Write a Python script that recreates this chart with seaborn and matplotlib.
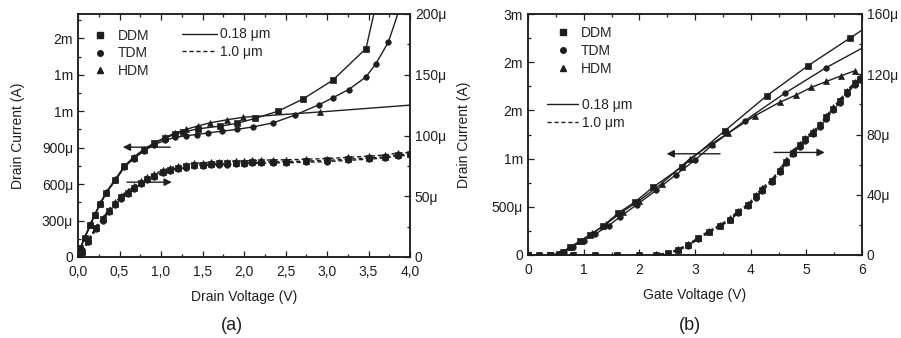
import matplotlib
matplotlib.use("Agg")
import matplotlib.pyplot as plt
import seaborn as sns
from matplotlib.lines import Line2D

# ---------------- data: panel (a)  Drain current vs drain voltage ----------------
# 0.18 um devices, left axis (uA)
va_ddm = [0, 0.03, 0.08, 0.15, 0.2, 0.27, 0.34, 0.45, 0.56, 0.67, 0.8, 0.92, 1.05, 1.17, 1.27,
          1.45, 1.71, 1.91, 2.13, 2.41, 2.71, 3.07, 3.47, 3.68]
ia_ddm = [0, 72, 160, 265, 345, 440, 530, 635, 745, 815, 880, 935, 980, 1010, 1030,
          1055, 1077, 1099, 1140, 1200, 1300, 1455, 1716, 2350]
va_tdm = [0, 0.03, 0.08, 0.15, 0.2, 0.27, 0.34, 0.45, 0.56, 0.67, 0.8, 0.92, 1.05, 1.17, 1.3,
          1.43, 1.57, 1.73, 1.91, 2.11, 2.35, 2.61, 2.9, 3.07, 3.26, 3.47, 3.59, 3.74, 3.95]
ia_tdm = [0, 70, 158, 262, 342, 437, 527, 630, 740, 810, 875, 925, 960, 985, 998,
          1008, 1022, 1035, 1050, 1071, 1104, 1167, 1252, 1310, 1378, 1482, 1592, 1770, 2200]
va_hdm = [0, 0.03, 0.08, 0.15, 0.2, 0.27, 0.34, 0.45, 0.56, 0.67, 0.8, 0.92, 1.05, 1.17, 1.3,
          1.45, 1.59, 1.8, 1.99, 2.92, 4.06]
ia_hdm = [0, 74, 163, 268, 348, 445, 535, 640, 750, 822, 890, 940, 985, 1020, 1050,
          1080, 1104, 1130, 1150, 1194, 1253]
# 1.0 um devices, right axis (uA)
vd_a = [0.0, 0.05, 0.12, 0.22, 0.3, 0.37, 0.45, 0.52, 0.6, 0.68, 0.76, 0.83, 0.92, 1.03, 1.11,
        1.2, 1.3, 1.4, 1.5, 1.6, 1.7, 1.8, 1.9, 2.0, 2.1, 2.2, 2.35, 2.5, 2.75, 3.0, 3.25,
        3.5, 3.7, 3.85, 4.0]
id_a_ddm = [0, 4, 13, 24, 31, 38, 44, 49, 53, 57, 61, 64, 67, 70, 72,
            73.5, 74.5, 75.5, 76, 76.5, 77, 77, 77.5, 77.5, 78, 78, 78.5, 78.5, 79, 79.5, 80.5,
            81.5, 82.5, 84, 85]
id_a_tdm = [0, 3, 12, 23, 30, 37, 43, 48, 52, 56, 60, 63, 66, 69, 71,
            72.5, 73.5, 74.5, 75, 75.5, 76, 76, 76.5, 76.5, 77, 77, 77.5, 77.5, 78, 78.5, 79.5,
            80.5, 81.5, 83, 84]
id_a_hdm = [0, 5, 14, 25, 32, 39, 45, 50.5, 54.5, 58.5, 62.5, 65.5, 68.5, 71.5, 73.5,
            75, 76, 77, 77.5, 78, 78.5, 78.5, 79, 79, 79.5, 79.5, 80, 80, 80.5, 81, 82,
            83, 84, 85.5, 86]

# ---------------- data: panel (b)  Drain current vs gate voltage ----------------
vb_ddm = [0.0, 0.2, 0.4, 0.55, 0.63, 0.75, 0.93, 1.11, 1.35, 1.62, 1.92, 2.25, 2.76, 3.54,
          4.29, 5.03, 5.78, 6.08]
ib_ddm = [0, 0, 2, 10, 34, 80, 142, 205, 300, 435, 550, 705, 912, 1291,
          1653, 1963, 2249, 2363]
vb_tdm = [0.0, 0.2, 0.4, 0.55, 0.65, 0.8, 1.0, 1.2, 1.45, 1.65, 1.95, 2.3, 2.65, 3.0, 3.3,
          3.9, 4.61, 5.36, 6.08]
ib_tdm = [0, 0, 2, 9, 35, 88, 150, 215, 305, 395, 520, 670, 830, 985, 1136,
          1395, 1677, 1945, 2170]
vb_hdm = [0.0, 0.2, 0.4, 0.55, 0.62, 0.78, 0.95, 1.15, 1.4, 1.7, 2.0, 2.4, 2.91, 3.3, 3.6,
          4.08, 4.52, 4.82, 5.09, 5.36, 5.63, 5.87]
ib_hdm = [0, 0, 2, 10, 33, 85, 150, 225, 320, 450, 565, 740, 1000, 1154, 1265,
          1446, 1584, 1660, 1739, 1800, 1860, 1911]
vd_b = [0.0, 0.4, 0.8, 1.2, 1.6, 2.0, 2.3, 2.52, 2.7, 2.88, 3.06, 3.25, 3.45, 3.63, 3.78,
        3.96, 4.1, 4.2, 4.38, 4.52, 4.64, 4.76, 4.88, 4.97, 5.12, 5.25, 5.36, 5.48, 5.6,
        5.73, 5.87, 5.97]
id_b_ddm = [0, 0, 0, 0, 0, 0, 0.3, 1.1, 3.5, 6.7, 11.1, 15.5, 19.5, 23.5, 28.5,
            33.3, 39, 43.3, 49, 56, 62, 68, 73, 77, 81, 86, 91.5, 97, 102,
            108, 114.4, 117]
id_b_tdm = [0, 0, 0, 0, 0, 0, 0.2, 0.9, 3.0, 6.2, 10.5, 15, 19, 23, 28,
            32.5, 38, 42.5, 48.5, 55, 61, 67, 72, 76, 80.5, 85, 90.5, 96, 101,
            107, 113, 116]
id_b_hdm = [0, 0, 0, 0, 0, 0, 0.4, 1.3, 4.0, 7.2, 11.6, 16, 20, 24.5, 29.5,
            34, 40, 44.5, 50, 57, 63, 69, 74, 78, 82, 87, 92.5, 98, 103,
            109, 115, 118]

# ---------------- tick labels ----------------
xa_ticks = [0, 0.5, 1.0, 1.5, 2.0, 2.5, 3.0, 3.5, 4.0]
xa_labels = ["0,0", "0,5", "1,0", "1,5", "2,0", "2,5", "3,0", "3,5", "4,0"]
ya_ticks = [0, 300, 600, 900, 1200, 1500, 1800]
ya_labels = ["0", "300\u03bc", "600\u03bc", "900\u03bc", "1m", "1m", "2m"]
ya2_ticks = [0, 50, 100, 150, 200]
ya2_labels = ["0", "50\u03bc", "100\u03bc", "150\u03bc", "200\u03bc"]
xb_ticks = [0, 1, 2, 3, 4, 5, 6]
xb_labels = ["0", "1", "2", "3", "4", "5", "6"]
yb_ticks = [0, 500, 1000, 1500, 2000, 2500]
yb_labels = ["0", "500\u03bc", "1m", "2m", "2m", "3m"]
yb2_ticks = [0, 40, 80, 120, 160]
yb2_labels = ["0", "40\u03bc", "80\u03bc", "120\u03bc", "160\u03bc"]

models = ["DDM", "TDM", "HDM"]
marker_of = {"DDM": "s", "TDM": "o", "HDM": "^"}

# ---------------- style ----------------
sns.set_style("ticks")
plt.rcParams["font.family"] = ["Liberation Sans", "DejaVu Sans"]
plt.rcParams["font.size"] = 10
INK = "#1e1e1e"
DASH = (0, (3, 2))

fig = plt.figure(figsize=(9.01, 3.38), dpi=100)
axA = fig.add_axes([78 / 901, 1 - 257 / 338, 332 / 901, 243 / 338])
axB = fig.add_axes([528 / 901, 1 - 255 / 338, 334 / 901, 241 / 338])
axA2 = axA.twinx()
axB2 = axB.twinx()


def draw(ax, x, y, mk, ls):
    ms = 4.6 if mk == "^" else 4.0
    sns.lineplot(x=x, y=y, ax=ax, color=INK, linewidth=1.0, linestyle=ls,
                 marker=mk, markersize=ms, markeredgecolor=INK, markeredgewidth=0.5,
                 legend=False, sort=False)


for name, x, y in zip(models, [va_ddm, va_tdm, va_hdm], [ia_ddm, ia_tdm, ia_hdm]):
    draw(axA, x, y, marker_of[name], "-")
for name, y in zip(models, [id_a_ddm, id_a_tdm, id_a_hdm]):
    draw(axA2, vd_a, y, marker_of[name], DASH)
for name, x, y in zip(models, [vb_ddm, vb_tdm, vb_hdm], [ib_ddm, ib_tdm, ib_hdm]):
    draw(axB, x, y, marker_of[name], "-")
for name, y in zip(models, [id_b_ddm, id_b_tdm, id_b_hdm]):
    draw(axB2, vd_b, y, marker_of[name], DASH)


def style(ax, ax2, xt, xl, yt, yl, y2t, y2l, xlim, ylim, y2lim, xminor, yminor, y2minor,
          xlabel, ypad):
    ax.set_xlim(*xlim)
    ax.set_ylim(*ylim)
    ax2.set_ylim(*y2lim)
    ax.set_xticks(xt)
    ax.set_xticklabels(xl)
    ax.set_yticks(yt)
    ax.set_yticklabels(yl)
    ax2.set_yticks(y2t)
    ax2.set_yticklabels(y2l)
    ax.set_xticks(xminor, minor=True)
    ax.set_yticks(yminor, minor=True)
    ax2.set_yticks(y2minor, minor=True)
    ax.tick_params(which="both", direction="in", top=True, right=False, colors=INK,
                   labelsize=10, width=0.9)
    ax.tick_params(axis="x", which="both", pad=5.5)
    ax.tick_params(which="major", length=4.5)
    ax.tick_params(which="minor", length=2.5)
    ax2.tick_params(which="both", direction="in", colors=INK, labelsize=10, width=0.9)
    ax2.tick_params(which="major", length=4.5)
    ax2.tick_params(which="minor", length=2.5)
    for a in (ax, ax2):
        for s in a.spines.values():
            s.set_visible(True)
            s.set_linewidth(1.1)
            s.set_color(INK)
    ax.set_xlabel(xlabel, fontsize=10, labelpad=8, color=INK)
    ax.set_ylabel("Drain Current (A)", fontsize=10, labelpad=ypad, color=INK)
    ax2.set_ylabel("")


style(axA, axA2, xa_ticks, xa_labels, ya_ticks, ya_labels, ya2_ticks, ya2_labels,
      (0, 4.0), (0, 2000), (0, 200),
      [0.25, 0.75, 1.25, 1.75, 2.25, 2.75, 3.25, 3.75],
      [150, 450, 750, 1050, 1350, 1650, 1950],
      [25, 75, 125, 175], "Drain Voltage (V)", 12)
style(axB, axB2, xb_ticks, xb_labels, yb_ticks, yb_labels, yb2_ticks, yb2_labels,
      (0, 6), (0, 2500), (0, 160),
      [0.5, 1.5, 2.5, 3.5, 4.5, 5.5],
      [250, 750, 1250, 1750, 2250],
      [20, 60, 100, 140], "Gate Voltage (V)", 15)

# arrows indicating which axis each set belongs to
arrow = dict(arrowstyle="-|>", color=INK, lw=1.0, mutation_scale=11, shrinkA=0, shrinkB=0)
axA.annotate("", xy=(0.54, 904), xytext=(1.11, 904), arrowprops=arrow)
axA.annotate("", xy=(1.13, 616), xytext=(0.59, 616), arrowprops=arrow)
axB.annotate("", xy=(2.49, 1050), xytext=(3.45, 1050), arrowprops=arrow)
axB.annotate("", xy=(5.33, 1064), xytext=(4.42, 1064), arrowprops=arrow)

# legends
def marker_handles():
    return [Line2D([], [], color=INK, ls="none", marker=marker_of[m],
                   markersize=4.6 if m == "^" else 4.0) for m in models]


def line_handles():
    return [Line2D([], [], color=INK, lw=1.0, ls="-"),
            Line2D([], [], color=INK, lw=1.0, ls=DASH)]


legA1 = axA2.legend(marker_handles(), models, loc="upper left", bbox_to_anchor=(0.045, 0.94),
                    frameon=False, borderaxespad=0, borderpad=0, handlelength=1.0,
                    handletextpad=0.8, labelspacing=0.28, fontsize=10)
axA2.add_artist(legA1)
axA2.legend(line_handles(), ["0.18 \u03bcm", "1.0 \u03bcm"], loc="upper left",
            bbox_to_anchor=(0.313, 0.945), frameon=False, borderaxespad=0, borderpad=0,
            handlelength=2.5, handletextpad=0.25, labelspacing=0.28, fontsize=10)

legB1 = axB2.legend(marker_handles(), models, loc="upper left", bbox_to_anchor=(0.084, 0.95),
                    frameon=False, borderaxespad=0, borderpad=0, handlelength=1.0,
                    handletextpad=0.8, labelspacing=0.28, fontsize=10)
axB2.add_artist(legB1)
axB2.legend(line_handles(), ["0.18 \u03bcm", "1.0 \u03bcm"], loc="upper left",
            bbox_to_anchor=(0.057, 0.65), frameon=False, borderaxespad=0, borderpad=0,
            handlelength=2.2, handletextpad=0.3, labelspacing=0.28, fontsize=10)

fig.text(232 / 901, 1 - 326 / 338, "(a)", ha="center", va="center", fontsize=13, color=INK)
fig.text(690 / 901, 1 - 326 / 338, "(b)", ha="center", va="center", fontsize=13, color=INK)

fig.savefig("out.png", dpi=100, facecolor="white")
